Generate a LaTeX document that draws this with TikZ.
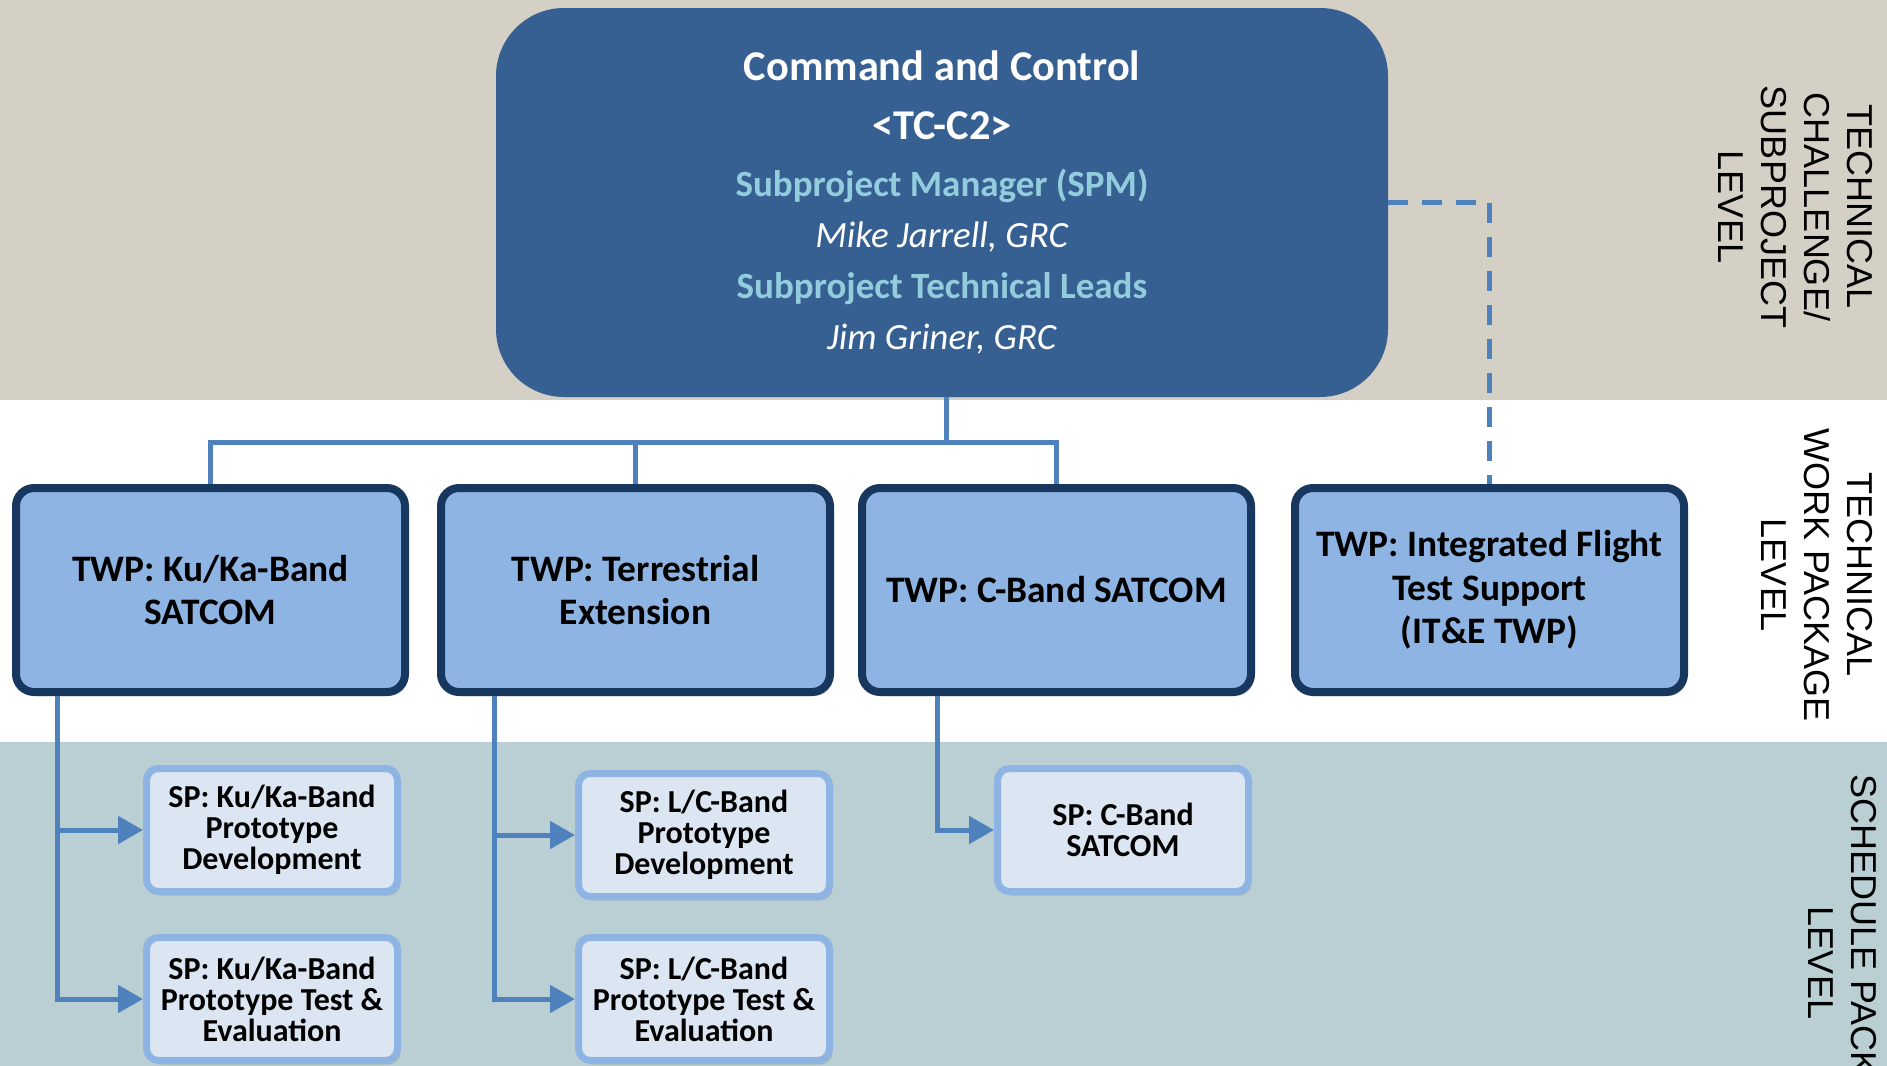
\documentclass[tikz,border=0pt]{standalone}
\usepackage{fontspec}
\setmainfont{Carlito}
\newfontfamily\lvlfont{Liberation Sans}
\usetikzlibrary{arrows.meta,positioning,shadows}
\definecolor{bandtan}{RGB}{212,208,197}
\definecolor{bandteal}{RGB}{185,207,212}
\definecolor{ccblue}{RGB}{55,96,146}
\definecolor{ccsub}{RGB}{147,205,221}
\definecolor{twpfill}{RGB}{142,180,227}
\definecolor{twpedge}{RGB}{23,55,94}
\definecolor{spfill}{RGB}{220,230,242}
\definecolor{linkblue}{RGB}{79,129,189}

\begin{document}
\begin{tikzpicture}[x=0.5pt,y=-0.5pt,
    twpbox/.style={draw=twpedge,fill=twpfill,line width=4pt,rounded corners=9pt,
      minimum width=194.5pt,minimum height=102pt,align=center,
      font=\fontsize{18.7}{21.8}\selectfont\bfseries,
      drop shadow={shadow xshift=1.5pt,shadow yshift=-2pt,opacity=0.3}},
    spbox/.style={draw=twpfill,fill=spfill,line width=3.5pt,rounded corners=6pt,
      minimum width=125.5pt,minimum height=61.5pt,align=center,
      font=\fontsize{16}{15.5}\selectfont\bfseries,
      drop shadow={shadow xshift=1.5pt,shadow yshift=-2pt,opacity=0.3}},
    lvltext/.style={rotate=-90,align=center,font=\lvlfont\fontsize{18}{21.5}\selectfont},
    link/.style={draw=linkblue,line width=2.5pt},
    arr/.style={link,-{Triangle[length=12.5pt,width=13.5pt]}},
    dashlink/.style={link,dash pattern=on 10pt off 7pt}]
  \useasboundingbox (0,0) rectangle (1887,1066);
  \clip (0,0) rectangle (1887,1066);
  % level bands
  \fill[bandtan] (0,0) rectangle (1887,400);
  \fill[white] (0,400) rectangle (1887,742);
  \fill[bandteal] (0,742) rectangle (1887,1066);

  % subproject
  \node[fill=ccblue,rounded corners=34pt,minimum width=446pt,minimum height=194.5pt,
    align=center,text=white,font=\fontsize{18.5}{25.5}\selectfont] (cc) at (942,202.5)
    {{\fontsize{21.2}{25.5}\selectfont\bfseries Command and Control}\\[4pt]
     {\fontsize{21.2}{25.5}\selectfont\bfseries <TC-C2>}\\[3pt]
     {\bfseries\color{ccsub}Subproject Manager (SPM)}\\
     \textit{Mike Jarrell, GRC}\\
     {\bfseries\color{ccsub}Subproject Technical Leads}\\
     \textit{Jim Griner, GRC}};

  % technical work packages
  \node[twpbox] (kuka) at (210.5,590) {TWP: Ku/Ka-Band\\SATCOM};
  \node[twpbox] (terr) at (635.5,590) {TWP: Terrestrial\\Extension};
  \node[twpbox] (cband) at (1056.5,590) {TWP: C-Band SATCOM};
  \node[twpbox] (itfs) at (1489.5,590) {TWP: Integrated Flight\\Test Support\\(IT\&E TWP)};

  % schedule packages
  \node[spbox] (spkudev) at (272,830) {SP: Ku/Ka-Band\\Prototype\\Development};
  \node[spbox,below=19.5pt of spkudev] (spkute) {SP: Ku/Ka-Band\\Prototype Test \&\\Evaluation};
  \node[spbox] (splcdev) at (704,835) {SP: L/C-Band\\Prototype\\Development};
  \node[spbox,below=17pt of splcdev] (splcte) {SP: L/C-Band\\Prototype Test \&\\Evaluation};
  \node[spbox] (spcband) at (1123,830) {SP: C-Band\\SATCOM};

  % tree
  \coordinate (bus) at (946,442);
  \draw[link] ([xshift=2pt]cc.south) -- ([xshift=2pt]cc.south |- bus);
  \draw[link] (kuka.north) -- (kuka.north |- bus) -- (cband.north |- bus) -- (cband.north);
  \draw[link] (terr.north) -- (terr.north |- bus);
  \draw[dashlink] (cc.east) -| (itfs.north);

  \draw[arr] ([xshift=22.5pt]kuka.south west) |- (spkudev.west);
  \draw[arr] ([xshift=22.5pt]kuka.south west) |- (spkute.west);
  \draw[arr] ([xshift=28.5pt]terr.south west) |- (splcdev.west);
  \draw[arr] ([xshift=28.5pt]terr.south west) |- (splcte.west);
  \draw[arr] ([xshift=39.5pt]cband.south west) |- (spcband.west);

  % level labels
  \node[lvltext] (lvlsub) at (1796,207) {TECHNICAL\\CHALLENGE/\\SUBPROJECT\\LEVEL};
  \node[lvltext] (lvltwp) at (1817,575) {TECHNICAL\\WORK PACKAGE\\LEVEL};
  \node[lvltext] (lvlsp) at (1843,963) {SCHEDULE PACKAGE\\LEVEL};
\end{tikzpicture}
\end{document}
